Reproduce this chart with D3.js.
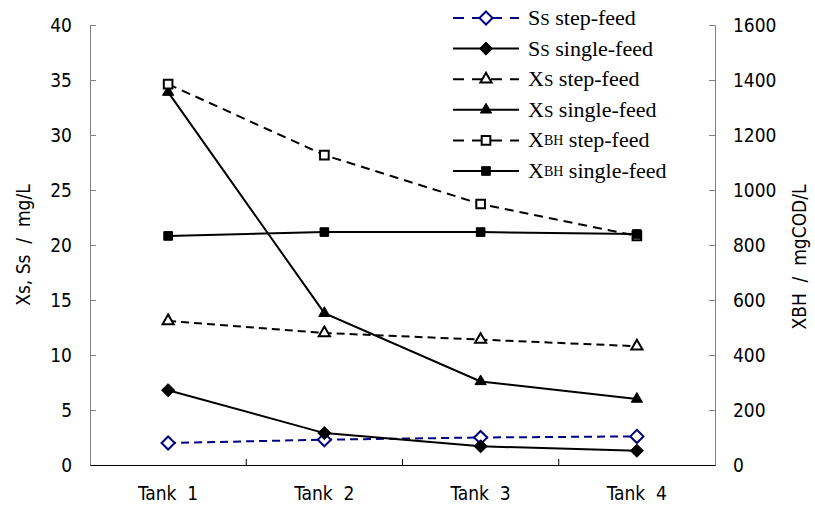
<!DOCTYPE html>
<html><head><meta charset="utf-8">
<script src="https://cdn.jsdelivr.net/npm/d3@7"></script>
<style>body{margin:0;background:#fff} text{white-space:pre}</style>
</head><body><svg id="c" width="815" height="512"></svg>
<script>
const categories = ["Tank  1","Tank  2","Tank  3","Tank  4"];
const ssStep   = [2.0, 2.3, 2.5, 2.6];
const ssSingle = [6.8, 2.9, 1.7, 1.3];
const xsStep   = [13.1, 12.0, 11.4, 10.8];
const xsSingle = [33.9, 13.8, 7.6, 6.0];
const xbhStep   = [1385, 1127, 949, 833];
const xbhSingle = [833, 847, 847, 840];
const leftTicks = [0,5,10,15,20,25,30,35,40];
const rightTicks = [0,200,400,600,800,1000,1200,1400,1600];

const series = [
  {name:["S","S"," step-feed"], v:ssStep, axis:"L", dash:"8,5", color:"#000080", sym:"diamond", fill:false},
  {name:["S","S"," single-feed"], v:ssSingle, axis:"L", dash:null, color:"#000", sym:"diamond", fill:true},
  {name:["X","S"," step-feed"], v:xsStep, axis:"L", dash:"8,5", color:"#000", sym:"triangle", fill:false},
  {name:["X","S"," single-feed"], v:xsSingle, axis:"L", dash:null, color:"#000", sym:"triangle", fill:true},
  {name:["X","BH"," step-feed"], v:xbhStep, axis:"R", dash:"9,6", color:"#000", sym:"square", fill:false},
  {name:["X","BH"," single-feed"], v:xbhSingle, axis:"R", dash:null, color:"#000", sym:"square", fill:true}
];

const svg = d3.select("#c");
const L=90, R=715, T=25, B=465;
const x = d3.scaleBand().domain(categories).range([L,R]);
const yL = d3.scaleLinear().domain([0,40]).range([B,T]);
const yR = d3.scaleLinear().domain([0,1600]).range([B,T]);
const tickFont = "'DejaVu Sans Condensed','DejaVu Sans',sans-serif";
function styleText(sel){ sel.attr("font-family",tickFont).attr("font-size",19).attr("fill","#000").style("font-stretch","condensed"); }

const gl = svg.append("g").attr("transform",`translate(${L},0)`)
  .call(d3.axisLeft(yL).tickValues(leftTicks).tickSizeInner(-6).tickSizeOuter(-6).tickPadding(18));
gl.select(".domain").attr("stroke","#808080");
gl.selectAll(".tick line").attr("stroke","#808080");
styleText(gl.selectAll("text"));

const gr = svg.append("g").attr("transform",`translate(${R},0)`)
  .call(d3.axisRight(yR).tickValues(rightTicks).tickFormat(d3.format("d")).tickSizeInner(-6).tickSizeOuter(-6).tickPadding(18));
gr.select(".domain").attr("stroke","#808080");
gr.selectAll(".tick line").attr("stroke","#808080");
styleText(gr.selectAll("text"));

const gb = svg.append("g").attr("transform",`translate(0,${B})`)
  .call(d3.axisBottom(x).tickSize(0).tickPadding(22));
gb.select(".domain").attr("stroke","#000");
styleText(gb.selectAll("text"));
svg.append("g").selectAll("line").data(categories.slice(1)).join("line")
  .attr("x1",d=>x(d)).attr("x2",d=>x(d)).attr("y1",B).attr("y2",B-6).attr("stroke","#000");

styleText(svg.append("text").attr("transform",`translate(30,${(T+B)/2}) rotate(-90)`)
  .attr("text-anchor","middle").text("Xs, Ss  /  mg/L"));
styleText(svg.append("text").attr("transform",`translate(806,${(T+B)/2+12}) rotate(-90)`)
  .attr("text-anchor","middle").text("XBH  /  mgCOD/L"));

function symPath(sym){
  const t = sym==="diamond"?d3.symbolDiamond2:sym==="triangle"?d3.symbolTriangle2:d3.symbolSquare2;
  return d3.symbol().type(t).size(sym==="diamond"?110:sym==="triangle"?90:95)();
}

const cx = d=>x(d)+x.bandwidth()/2;
series.forEach(s=>{
  const y = s.axis==="L"?yL:yR;
  const pts = categories.map((c,i)=>[cx(c), y(s.v[i])]);
  svg.append("path").attr("d",d3.line()(pts)).attr("fill","none")
    .attr("stroke",s.color).attr("stroke-width",2).attr("stroke-dasharray",s.dash);
  svg.append("g").selectAll("path").data(pts).join("path")
    .attr("transform",d=>`translate(${d[0]},${d[1]})`)
    .attr("d",symPath(s.sym))
    .attr("fill",s.fill?s.color:"#fff").attr("stroke",s.color).attr("stroke-width",s.fill?1:2);
});

const lg = svg.append("g");
series.forEach((s,i)=>{
  const yy = 18 + i*30.6;
  lg.append("line").attr("x1",453).attr("x2",519).attr("y1",yy).attr("y2",yy)
    .attr("stroke",s.color).attr("stroke-width",2).attr("stroke-dasharray",s.dash?"11,8":null);
  lg.append("path").attr("transform",`translate(486,${yy})`)
    .attr("d",symPath(s.sym)).attr("fill",s.fill?s.color:"#fff").attr("stroke",s.color).attr("stroke-width",s.fill?1:2);
  const t = lg.append("text").attr("x",528).attr("y",yy+7).attr("font-family","'Liberation Serif','Times New Roman',serif").attr("font-size",22);
  const bh = s.name[1]==="BH";
  t.append("tspan").text(s.name[0]);
  t.append("tspan").attr("font-size",bh?14:17).attr("dy",bh?-2:0).text(s.name[1]);
  t.append("tspan").attr("dy",bh?2:0).text(s.name[2]);
});
</script></body></html>
